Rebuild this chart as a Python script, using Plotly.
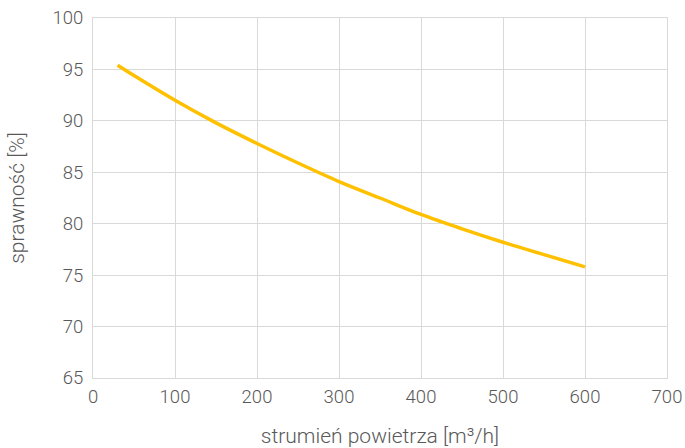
import plotly.graph_objects as go

flow = [30, 50, 100, 150, 200, 250, 300, 350, 400, 450, 500, 550, 600]
efficiency = [95.4, 94.4, 92.0, 89.8, 87.8, 85.9, 84.1, 82.5, 80.9, 79.5, 78.2, 77.0, 75.8]

x_ticks = [0, 100, 200, 300, 400, 500, 600, 700]
y_ticks = [65, 70, 75, 80, 85, 90, 95, 100]

fig = go.Figure()
fig.add_trace(go.Scatter(
    x=flow, y=efficiency, mode="lines",
    line=dict(color="#FFC000", width=3.5, shape="spline"),
    showlegend=False,
))

grid = "#D9D9D9"
tick_font = dict(family="Roboto", size=18.5, color="#595959", weight=300)
title_font = dict(family="Roboto", size=21, color="#595959", weight=300)

fig.update_layout(
    width=685, height=448,
    margin=dict(l=93, r=18, t=18, b=70),
    paper_bgcolor="white", plot_bgcolor="white",
    font=tick_font,
    xaxis=dict(
        range=[0, 700], tickvals=x_ticks, showgrid=True, gridcolor=grid, gridwidth=1,
        showline=True, linecolor=grid, mirror=True, zeroline=False, ticks="",
        automargin=False, ticklabeloverflow="allow", ticklabelstandoff=2,
        title=dict(text="strumień powietrza [m³/h]", font=title_font, standoff=22),
        tickfont=tick_font,
    ),
    yaxis=dict(
        range=[65, 100], tickvals=y_ticks, showgrid=True, gridcolor=grid, gridwidth=1,
        showline=True, linecolor=grid, mirror=True, zeroline=False, ticks="",
        automargin=False, ticklabeloverflow="allow", ticklabelstandoff=5,
        title=dict(text="sprawność [%]", font=title_font, standoff=22),
        tickfont=tick_font,
    ),
)

fig.write_html(
    "out.html",
    config={"displayModeBar": False},
    post_script="document.body.style.margin='0';document.documentElement.style.overflow='hidden';",
)
